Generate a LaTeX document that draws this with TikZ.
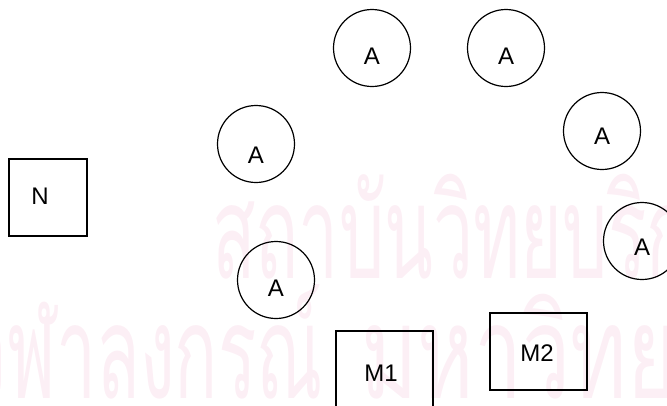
\documentclass[tikz,border=0pt]{standalone}
\usepackage{fontspec}
\usepackage{graphicx}
\setmainfont{Liberation Sans}
\newfontfamily\thaifont[Script=Thai]{Loma}
\definecolor{wm}{RGB}{252,239,245}
\begin{document}
\begin{tikzpicture}[x=1pt,y=-1pt,
  shapeline/.style={draw=black,line width=1.2pt},
  anode/.style={shapeline,circle,minimum size=77pt,inner sep=0pt},
  boxnode/.style={shapeline,rectangle,inner sep=0pt,line width=1.4pt},
  lbl/.style={font=\fontsize{24}{24}\selectfont,inner sep=0pt},
  wmtext/.style={text=wm,inner sep=0pt,font=\thaifont\fontsize{130}{130}\selectfont,xscale=0.55,yscale=1.0,transform shape}]
\useasboundingbox (0,0) rectangle (667,405);
% watermark
\node[wmtext,anchor=base west] (wm1) at (212,278) {สถาบันวิทยบริการ};
\node[wmtext,anchor=base west] (wm2) at (7,398) {\llap{จุ}ฬาลงกรณ์\hspace{70pt}\scalebox{1.2}[1]{มหาวิทยาลัย}};
% circles
\node[anode] (c1) at (372,48) {};
\node[anode] (c2) at (506,48) {};
\node[anode] (c3) at (256,144) {};
\node[anode] (c4) at (276,280) {};
\node[anode] (c5) at (602,131) {};
\node[anode] (c6) at (642,241) {};
\node[lbl] (t1) at (372,56) {A};
\node[lbl] (t2) at (506,56) {A};
\node[lbl] (t3) at (256,155) {A};
\node[lbl] (t4) at (276,288) {A};
\node[lbl] (t5) at (602,136) {A};
\node[lbl] (t6) at (642,247) {A};
% boxes
\node[boxnode,minimum width=78pt,minimum height=77pt] (n) at (48,197.5) {};
\node[lbl] (nt) at (40,196) {N};
\node[boxnode,minimum width=97pt,minimum height=90pt] (m1) at (384.5,376) {};
\node[lbl] (m1t) at (381,373) {M1};
\node[boxnode,minimum width=97pt,minimum height=77pt] (m2) at (538.5,351.5) {};
\node[lbl] (m2t) at (537,353) {M2};
\end{tikzpicture}
\end{document}
